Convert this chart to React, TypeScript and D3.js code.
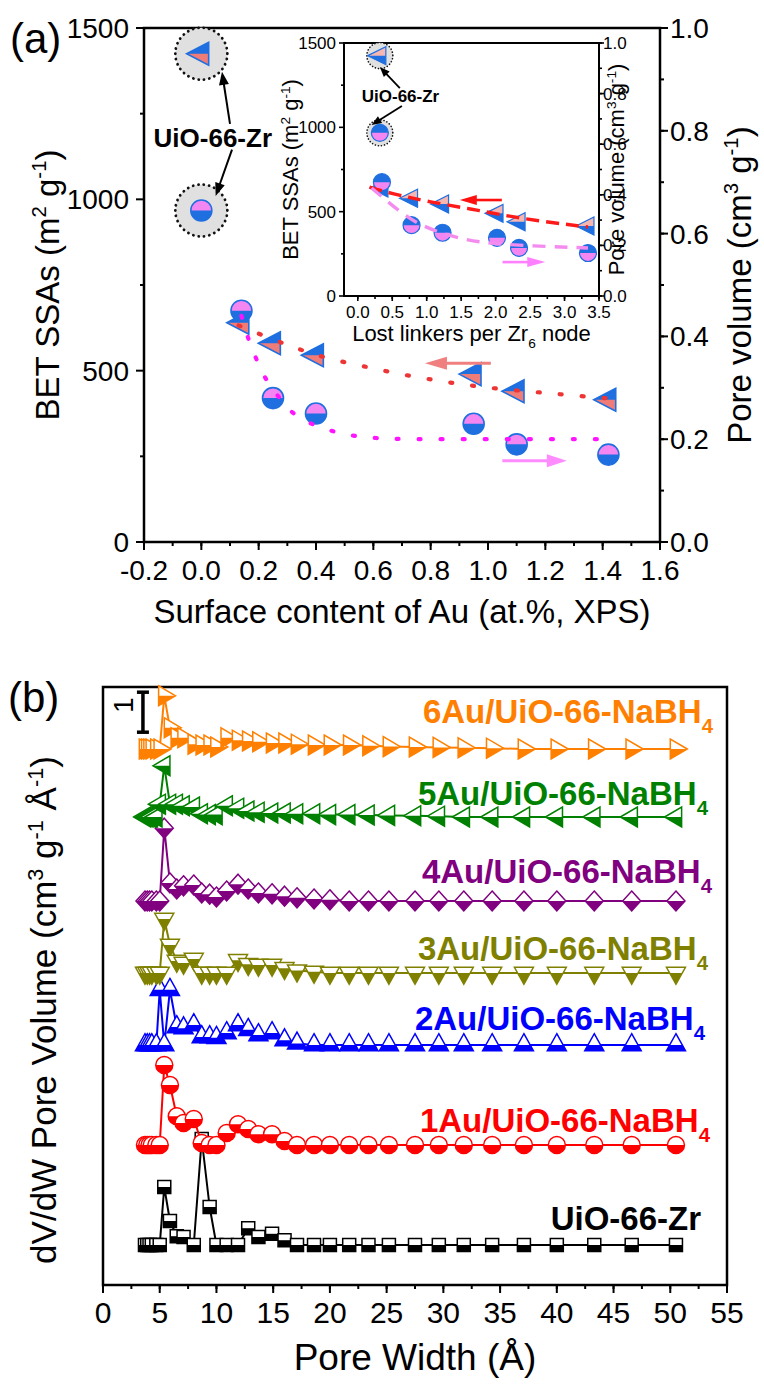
import React from "react";
import * as d3 from "d3";

const FONT = "'Liberation Sans', Arial, Helvetica, sans-serif";

// ---------- Panel (a): BET surface area & pore volume ----------
const auContent = [0.14, 0.25, 0.40, 0.95, 1.10, 1.42];
const lostLinkers = [0.35, 0.78, 1.23, 2.02, 2.34, 3.34];
const betSsa = [640, 580, 545, 490, 440, 415];
const poreVolume = [0.45, 0.28, 0.25, 0.23, 0.19, 0.17];
const uioAu = 0.0;
const uioLinkers = 0.32;
const uioSsa = 1425;
const uioPoreVolume = 0.645;

// fitted trend curves (main plot)
const ssaFitX = [0.13, 0.22, 0.30, 0.37, 0.45, 0.53, 0.61, 0.69, 0.77, 0.85, 0.93, 1.01, 1.12, 1.20, 1.28, 1.36, 1.42];
const ssaFitY = [632, 601, 575, 554, 534, 519, 505, 490, 479, 467, 458, 449, 441, 435, 429, 423, 419];
const pvFitX = [0.14, 0.16, 0.19, 0.22, 0.27, 0.31, 0.37, 0.45, 0.53, 0.61, 0.69, 0.90, 1.20, 1.42];
const pvFitY = [0.44, 0.40, 0.358, 0.319, 0.282, 0.253, 0.232, 0.216, 0.206, 0.202, 0.200, 0.200, 0.200, 0.200];

// fitted trend curves (inset)
const insetSsaFitX = [0.17, 0.46, 1.04, 1.73, 2.40, 3.34];
const insetSsaFitY = [646, 610, 557, 510, 456, 409];
const insetPvFitX = [0.20, 0.61, 0.94, 1.52, 2.10, 3.34];
const insetPvFitY = [0.427, 0.332, 0.273, 0.221, 0.202, 0.19];

const mainXTicks = d3.range(-2, 17, 2).map((i) => i / 10);
const mainXMinor = d3.range(-2, 17, 1).map((i) => i / 10);
const ssaTicks = [0, 500, 1000, 1500];
const ssaMinor = [250, 750, 1250];
const pvTicks = d3.range(0, 11, 2).map((i) => i / 10);
const pvMinor = d3.range(0, 11, 1).map((i) => i / 10);
const insetXTicks = d3.range(0, 8).map((i) => i / 2);
const insetXMinor = d3.range(-1, 15).map((i) => i / 4).filter((v) => v >= -0.2);

// ---------- Panel (b): pore size distributions ----------
const poreWidth = [3.7, 3.9, 4.1, 4.3, 4.7, 5.0, 5.4, 5.9, 6.5, 7.1, 8.0, 8.7, 9.4, 10.0, 10.9, 11.9, 12.8, 13.7, 14.9, 16.0, 17.1, 18.6, 20.0, 21.7, 23.4, 25.2, 27.5, 29.6, 31.8, 34.3, 37.1, 40.0, 43.3, 46.6, 50.5];
const psdUio = [0, 0, 0, 0, 0, 0, 1.45, 0.6, 0.22, 0.2, 0, 2.65, 0.95, 0, 0, 0, 0.42, 0.2, 0.28, 0.12, 0, 0, 0, 0, 0, 0, 0, 0, 0, 0, 0, 0, 0, 0, 0];
const psd1Au = [0, 0, 0, 0, 0, 0, 2.0, 1.5, 0.72, 0.55, 0.65, 0.05, 0, 0, 0.3, 0.52, 0.4, 0.27, 0.27, 0.1, 0, 0, 0, 0, 0, 0, 0, 0, 0, 0, 0, 0, 0, 0, 0];
const psd2Au = [0, 0, 0, 0, 0, 1.38, 0, 1.38, 0.45, 0.42, 0.5, 0.2, 0.2, 0.18, 0.3, 0.5, 0.38, 0.25, 0.3, 0.12, 0.04, 0, 0, 0, 0, 0, 0, 0, 0, 0, 0, 0, 0, 0, 0];
const psd3Au = [0, 0, 0, 0, 0, 0, 1.35, 0.7, 0.3, 0.25, 0.35, 0, 0, 0, 0, 0.32, 0.22, 0.2, 0.2, 0.12, 0.06, 0.03, 0, 0, 0, 0, 0, 0, 0, 0, 0, 0, 0, 0, 0];
const psd4Au = [0, 0, 0, 0, 0, 0, 1.82, 0.45, 0.3, 0.38, 0.4, 0.2, 0.17, 0.1, 0.25, 0.42, 0.3, 0.2, 0.18, 0.12, 0.08, 0.05, 0.03, 0, 0, 0, 0, 0, 0, 0, 0, 0, 0, 0, 0];
const psd5Au = [0, 0, 0, 0, 0, 0.32, 1.28, 0.32, 0.32, 0.28, 0.25, 0.08, 0.06, 0.06, 0.28, 0.22, 0.15, 0.12, 0.1, 0.1, 0.08, 0.08, 0.06, 0.06, 0.05, 0.04, 0.03, 0.02, 0, 0, 0, 0, 0, 0, 0];
const psd6Au = [0, 0, 0, 0, 0, 0, 1.33, 0.53, 0.28, 0.28, 0.12, 0.1, 0.1, 0.05, 0.28, 0.22, 0.2, 0.18, 0.15, 0.15, 0.12, 0.1, 0.1, 0.1, 0.08, 0.06, 0.05, 0.04, 0.03, 0.02, 0, 0, 0, 0, 0];
const seriesNames = ["UiO-66-Zr", "1Au/UiO-66-NaBH", "2Au/UiO-66-NaBH", "3Au/UiO-66-NaBH", "4Au/UiO-66-NaBH", "5Au/UiO-66-NaBH", "6Au/UiO-66-NaBH"];
const seriesOffsets = [1.0, 3.5, 6.0, 7.8, 9.6, 11.7, 13.4];
const poreTicks = d3.range(0, 56, 5);
const poreMinor = d3.range(0, 56, 2.5);

// ---------- scales ----------
const xA = d3.scaleLinear().domain([-0.2, 1.6]).range([144, 660]);
const yA = d3.scaleLinear().domain([0, 1500]).range([542, 28]);
const yA2 = d3.scaleLinear().domain([0, 1]).range([542, 28]);
const xI = d3.scaleLinear().domain([-0.2, 3.5]).range([344, 599]);
const yI = d3.scaleLinear().domain([0, 1500]).range([296, 43]);
const yI2 = d3.scaleLinear().domain([0, 1]).range([296, 43]);
const xB = d3.scaleLinear().domain([0, 55]).range([103, 727]);
const yB = d3.scaleLinear().domain([0, 14.95]).range([1285, 687]);

const C = {
  blue: "#1f6fe0",
  salmon: "#f07c78",
  lightSalmon: "#f6b6b2",
  violet: "#f486f2",
  fitRed: "#ee3535",
  fitMagenta: "#ff14ff",
  dashRed: "#ff1a1a",
  dashPink: "#f48cf0",
};

type Part = [string, string?];

function Rich({ parts, fs }: { parts: Part[]; fs: number }) {
  let cur = 0;
  return (
    <>
      {parts.map(([t, k], i) => {
        const target = k === "sup" ? -fs * 0.38 : k === "sub" ? fs * 0.3 : 0;
        const dy = target - cur;
        cur = target;
        return (
          <tspan key={i} dy={dy} fontSize={k ? fs * 0.62 : fs}>
            {t}
          </tspan>
        );
      })}
    </>
  );
}

function shapePaths(shape: string, cx: number, cy: number, w: number, h: number) {
  switch (shape) {
    case "circle": {
      const r = w / 2;
      return {
        full: `M${cx - r},${cy}A${r},${r} 0 1 1 ${cx + r},${cy}A${r},${r} 0 1 1 ${cx - r},${cy}Z`,
        lower: `M${cx - r},${cy}A${r},${r} 0 0 0 ${cx + r},${cy}Z`,
      };
    }
    case "square":
      return {
        full: `M${cx - w / 2},${cy - h / 2}H${cx + w / 2}V${cy + h / 2}H${cx - w / 2}Z`,
        lower: `M${cx - w / 2},${cy}H${cx + w / 2}V${cy + h / 2}H${cx - w / 2}Z`,
      };
    case "up":
      return {
        full: `M${cx},${cy - (2 * h) / 3}L${cx + w / 2},${cy + h / 3}L${cx - w / 2},${cy + h / 3}Z`,
        lower: `M${cx - w / 3},${cy}L${cx + w / 3},${cy}L${cx + w / 2},${cy + h / 3}L${cx - w / 2},${cy + h / 3}Z`,
      };
    case "down":
      return {
        full: `M${cx - w / 2},${cy - h / 3}L${cx + w / 2},${cy - h / 3}L${cx},${cy + (2 * h) / 3}Z`,
        lower: `M${cx - w / 3},${cy}L${cx + w / 3},${cy}L${cx},${cy + (2 * h) / 3}Z`,
      };
    case "left":
      return {
        full: `M${cx - (2 * w) / 3},${cy}L${cx + w / 3},${cy - h / 2}L${cx + w / 3},${cy + h / 2}Z`,
        lower: `M${cx - (2 * w) / 3},${cy}L${cx + w / 3},${cy}L${cx + w / 3},${cy + h / 2}Z`,
      };
    case "right":
      return {
        full: `M${cx + (2 * w) / 3},${cy}L${cx - w / 3},${cy - h / 2}L${cx - w / 3},${cy + h / 2}Z`,
        lower: `M${cx + (2 * w) / 3},${cy}L${cx - w / 3},${cy}L${cx - w / 3},${cy + h / 2}Z`,
      };
    default:
      return {
        full: `M${cx},${cy - h / 2}L${cx + w / 2},${cy}L${cx},${cy + h / 2}L${cx - w / 2},${cy}Z`,
        lower: `M${cx - w / 2},${cy}L${cx + w / 2},${cy}L${cx},${cy + h / 2}Z`,
      };
  }
}

function HalfMarker(props: {
  shape: string; cx: number; cy: number; w: number; h: number;
  upper: string; lower: string; stroke: string; sw: number;
}) {
  const { full, lower } = shapePaths(props.shape, props.cx, props.cy, props.w, props.h);
  return (
    <g>
      <path d={full} fill={props.upper} />
      <path d={lower} fill={props.lower} />
      <path d={full} fill="none" stroke={props.stroke} strokeWidth={props.sw} strokeLinejoin="miter" />
    </g>
  );
}

function Arrow(props: { x1: number; y1: number; x2: number; y2: number; color: string; width: number; head: number; hw: number }) {
  const { x1, y1, x2, y2, color, width, head, hw } = props;
  const len = Math.hypot(x2 - x1, y2 - y1);
  const ux = (x2 - x1) / len;
  const uy = (y2 - y1) / len;
  const bx = x2 - ux * head;
  const by = y2 - uy * head;
  const px = -uy;
  const py = ux;
  return (
    <g>
      <line x1={x1} y1={y1} x2={bx + ux * 2} y2={by + uy * 2} stroke={color} strokeWidth={width} />
      <path d={`M${x2},${y2}L${bx + px * hw},${by + py * hw}L${bx - px * hw},${by - py * hw}Z`} fill={color} />
    </g>
  );
}

const seriesStyles = [
  { shape: "square", color: "#000000", w: 13, h: 13 },
  { shape: "circle", color: "#ff0000", w: 17, h: 17 },
  { shape: "up", color: "#0000ff", w: 19, h: 17 },
  { shape: "down", color: "#808000", w: 19, h: 17 },
  { shape: "diamond", color: "#800080", w: 18, h: 20 },
  { shape: "left", color: "#008000", w: 17, h: 20 },
  { shape: "right", color: "#ff8000", w: 17, h: 20 },
];
const seriesData = [psdUio, psd1Au, psd2Au, psd3Au, psd4Au, psd5Au, psd6Au];
const labelLayout = [
  { xEnd: 701, dyBase: 15, sub: "" },
  { xEnd: 710, dyBase: 13, sub: "4" },
  { xEnd: 705, dyBase: 15, sub: "4" },
  { xEnd: 708, dyBase: 13, sub: "4" },
  { xEnd: 712, dyBase: 18, sub: "4" },
  { xEnd: 708, dyBase: 12, sub: "4" },
  { xEnd: 713, dyBase: 26, sub: "4" },
];

export default function App() {
  const ssaFit = d3.line<number>().x((_, i) => xA(ssaFitX[i])).y((d) => yA(d)).curve(d3.curveBasis)(ssaFitY) || "";
  const pvFit = d3.line<number>().x((_, i) => xA(pvFitX[i])).y((d) => yA2(d)).curve(d3.curveBasis)(pvFitY) || "";
  const inSsaFit = d3.line<number>().x((_, i) => xI(insetSsaFitX[i])).y((d) => yI(d)).curve(d3.curveBasis)(insetSsaFitY) || "";
  const inPvFit = d3.line<number>().x((_, i) => xI(insetPvFitX[i])).y((d) => yI2(d)).curve(d3.curveBasis)(insetPvFitY) || "";

  const tickFs = 28;
  const titleFs = 33;

  return (
    <svg
      width={764}
      height={1387}
      viewBox="0 0 764 1387"
      style={{ position: "absolute", left: 0, top: 0, background: "#fff" }}
      fontFamily={FONT}
    >
      <rect x={0} y={0} width={764} height={1387} fill="#fff" />

      {/* ================= Panel (a) ================= */}
      <text x={10} y={53} fontSize={42}>(a)</text>

      {/* axes ticks */}
      <g stroke="#000" strokeWidth={2}>
        {ssaTicks.map((v) => <line key={"l" + v} x1={xA(-0.2) - 8} x2={xA(-0.2)} y1={yA(v)} y2={yA(v)} />)}
        {ssaMinor.map((v) => <line key={"lm" + v} x1={xA(-0.2) - 4} x2={xA(-0.2)} y1={yA(v)} y2={yA(v)} />)}
        {pvTicks.map((v) => <line key={"r" + v} x1={xA(1.6)} x2={xA(1.6) + 8} y1={yA2(v)} y2={yA2(v)} />)}
        {pvMinor.map((v) => <line key={"rm" + v} x1={xA(1.6)} x2={xA(1.6) + 4} y1={yA2(v)} y2={yA2(v)} />)}
        {mainXTicks.map((v) => <line key={"b" + v} x1={xA(v)} x2={xA(v)} y1={yA(0)} y2={yA(0) + 8} />)}
        {mainXMinor.map((v) => <line key={"bm" + v} x1={xA(v)} x2={xA(v)} y1={yA(0)} y2={yA(0) + 4} />)}
      </g>
      <rect x={xA(-0.2)} y={yA(1500)} width={xA(1.6) - xA(-0.2)} height={yA(0) - yA(1500)} fill="none" stroke="#000" strokeWidth={2.5} />

      <g fontSize={tickFs}>
        {ssaTicks.map((v) => <text key={v} x={129} y={yA(v) + 10} textAnchor="end">{v}</text>)}
        {pvTicks.map((v) => <text key={v} x={670} y={yA2(v) + 10}>{v.toFixed(1)}</text>)}
        {mainXTicks.map((v) => <text key={v} x={xA(v)} y={580} textAnchor="middle">{v.toFixed(1)}</text>)}
      </g>
      <text x={(xA(-0.2) + xA(1.6)) / 2} y={623} fontSize={titleFs} textAnchor="middle">
        Surface content of Au (at.%, XPS)
      </text>
      <text transform={`translate(59,${(yA(0) + yA(1500)) / 2}) rotate(-90)`} textAnchor="middle" fontSize={titleFs}>
        <Rich fs={titleFs} parts={[["BET SSAs (m"], ["2", "sup"], [" g"], ["-1", "sup"], [")"]]} />
      </text>
      <text transform={`translate(751,${(yA(0) + yA(1500)) / 2}) rotate(-90)`} textAnchor="middle" fontSize={titleFs}>
        <Rich fs={titleFs} parts={[["Pore volume (cm"], ["3", "sup"], [" g"], ["-1", "sup"], [")"]]} />
      </text>

      {/* UiO-66-Zr reference markers */}
      <circle cx={xA(uioAu)} cy={yA(uioSsa)} r={26} fill="#e0e0e0" stroke="#111" strokeWidth={2.8} strokeDasharray="0.1 5.3" strokeLinecap="round" />
      <circle cx={xA(uioAu)} cy={yA2(uioPoreVolume)} r={26} fill="#e0e0e0" stroke="#111" strokeWidth={2.8} strokeDasharray="0.1 5.3" strokeLinecap="round" />
      <HalfMarker shape="left" cx={xA(uioAu)} cy={yA(uioSsa)} w={22} h={23} upper={C.blue} lower={C.salmon} stroke={C.blue} sw={1.6} />
      <HalfMarker shape="circle" cx={xA(uioAu)} cy={yA2(uioPoreVolume)} w={21} h={21} upper={C.violet} lower={C.blue} stroke={C.blue} sw={1.6} />

      {/* samples */}
      {auContent.map((x, i) => (
        <HalfMarker key={"t" + i} shape="left" cx={xA(x)} cy={yA(betSsa[i])} w={22} h={23} upper={C.blue} lower={C.salmon} stroke={C.blue} sw={1.6} />
      ))}
      {auContent.map((x, i) => (
        <HalfMarker key={"c" + i} shape="circle" cx={xA(x)} cy={yA2(poreVolume[i])} w={21} h={21} upper={C.violet} lower={C.blue} stroke={C.blue} sw={1.6} />
      ))}
      <path d={ssaFit} fill="none" stroke={C.fitRed} strokeWidth={4.2} strokeDasharray="2 20" strokeLinecap="round" />
      <path d={pvFit} fill="none" stroke={C.fitMagenta} strokeWidth={4.2} strokeDasharray="2 20" strokeLinecap="round" />
      <Arrow x1={xA(1.01)} y1={yA(522)} x2={xA(0.78)} y2={yA(522)} color="#f08080" width={3} head={22} hw={6.5} />
      <Arrow x1={xA(1.05)} y1={yA2(0.158)} x2={xA(1.275)} y2={yA2(0.158)} color="#ff8cff" width={3} head={20} hw={6.5} />

      {/* UiO-66-Zr annotation */}
      <text x={xA(0.04)} y={147} fontSize={26} fontWeight="bold" textAnchor="middle">UiO-66-Zr</text>
      <Arrow x1={xA(0.10)} y1={yA(1220)} x2={xA(0.072)} y2={yA(1372)} color="#000" width={2} head={13} hw={5} />
      <Arrow x1={xA(0.107)} y1={yA(1145)} x2={xA(0.05)} y2={yA(1010)} color="#000" width={2} head={13} hw={5} />

      {/* ---------- inset ---------- */}
      <rect x={xI(-0.2)} y={yI(1500)} width={xI(3.5) - xI(-0.2)} height={yI(0) - yI(1500)} fill="#fff" />
      <g stroke="#000" strokeWidth={1.6}>
        {ssaTicks.map((v) => <line key={"il" + v} x1={xI(-0.2) - 5} x2={xI(-0.2)} y1={yI(v)} y2={yI(v)} />)}
        {ssaMinor.map((v) => <line key={"ilm" + v} x1={xI(-0.2) - 3} x2={xI(-0.2)} y1={yI(v)} y2={yI(v)} />)}
        {pvTicks.map((v) => <line key={"ir" + v} x1={xI(3.5)} x2={xI(3.5) + 5} y1={yI2(v)} y2={yI2(v)} />)}
        {pvMinor.map((v) => <line key={"irm" + v} x1={xI(3.5)} x2={xI(3.5) + 3} y1={yI2(v)} y2={yI2(v)} />)}
        {insetXTicks.map((v) => <line key={"ib" + v} x1={xI(v)} x2={xI(v)} y1={yI(0)} y2={yI(0) + 5} />)}
        {insetXMinor.map((v) => <line key={"ibm" + v} x1={xI(v)} x2={xI(v)} y1={yI(0)} y2={yI(0) + 3} />)}
      </g>
      <rect x={xI(-0.2)} y={yI(1500)} width={xI(3.5) - xI(-0.2)} height={yI(0) - yI(1500)} fill="none" stroke="#000" strokeWidth={2} />
      <g fontSize={17}>
        {ssaTicks.map((v) => <text key={v} x={336} y={yI(v) + 6} textAnchor="end">{v}</text>)}
        {pvTicks.map((v) => <text key={v} x={603} y={yI2(v) + 6}>{v.toFixed(1)}</text>)}
        {insetXTicks.map((v) => <text key={v} x={xI(v)} y={318} textAnchor="middle">{v.toFixed(1)}</text>)}
      </g>
      <text x={(xI(-0.2) + xI(3.5)) / 2} y={341} fontSize={22} textAnchor="middle">
        <Rich fs={22} parts={[["Lost linkers per Zr"], ["6", "sub"], [" node"]]} />
      </text>
      <text transform={`translate(298,${(yI(0) + yI(1500)) / 2}) rotate(-90)`} textAnchor="middle" fontSize={22}>
        <Rich fs={22} parts={[["BET SSAs (m"], ["2", "sup"], [" g"], ["-1", "sup"], [")"]]} />
      </text>
      <text transform={`translate(624,${(yI(0) + yI(1500)) / 2}) rotate(-90)`} textAnchor="middle" fontSize={22}>
        <Rich fs={22} parts={[["Pore volume (cm"], ["3", "sup"], [" g"], ["-1", "sup"], [")"]]} />
      </text>

      <circle cx={xI(uioLinkers)} cy={yI(uioSsa)} r={13} fill="#e0e0e0" stroke="#111" strokeWidth={1.6} strokeDasharray="0.1 3" strokeLinecap="round" />
      <circle cx={xI(uioLinkers)} cy={yI2(uioPoreVolume)} r={13} fill="#e0e0e0" stroke="#111" strokeWidth={1.6} strokeDasharray="0.1 3" strokeLinecap="round" />
      <HalfMarker shape="left" cx={xI(uioLinkers)} cy={yI(uioSsa)} w={18} h={18} upper={C.lightSalmon} lower={C.blue} stroke={C.blue} sw={1.2} />
      <HalfMarker shape="circle" cx={xI(uioLinkers)} cy={yI2(uioPoreVolume)} w={17} h={17} upper={C.blue} lower={C.violet} stroke={C.blue} sw={1.2} />
      {lostLinkers.map((x, i) => (
        <HalfMarker key={"it" + i} shape="left" cx={xI(x)} cy={yI(betSsa[i])} w={18} h={18} upper={C.lightSalmon} lower={C.blue} stroke={C.blue} sw={1.2} />
      ))}
      {lostLinkers.map((x, i) => (
        <HalfMarker key={"ic" + i} shape="circle" cx={xI(x)} cy={yI2(poreVolume[i])} w={17} h={17} upper={C.blue} lower={C.violet} stroke={C.blue} sw={1.2} />
      ))}
      <path d={inSsaFit} fill="none" stroke={C.dashRed} strokeWidth={3.4} strokeDasharray="13 7" />
      <path d={inPvFit} fill="none" stroke={C.dashPink} strokeWidth={3.4} strokeDasharray="13 9" />
      <Arrow x1={xI(2.09)} y1={yI(569)} x2={xI(1.48)} y2={yI(569)} color="#ff1010" width={2.6} head={17} hw={5} />
      <Arrow x1={xI(2.10)} y1={yI2(0.134)} x2={xI(2.72)} y2={yI2(0.134)} color="#ff80ff" width={2.6} head={18} hw={5} />
      <text x={xI(0.62)} y={102} fontSize={17} fontWeight="bold" textAnchor="middle">UiO-66-Zr</text>
      <Arrow x1={xI(0.61)} y1={yI(1233)} x2={xI(0.32)} y2={yI(1357)} color="#000" width={1.8} head={10} hw={4} />
      <Arrow x1={xI(0.64)} y1={yI(1126)} x2={xI(0.20)} y2={yI(1014)} color="#000" width={1.8} head={10} hw={4} />

      {/* ================= Panel (b) ================= */}
      <text x={8} y={712} fontSize={42}>(b)</text>
      <g stroke="#000" strokeWidth={2}>
        {poreTicks.map((v) => <line key={"pb" + v} x1={xB(v)} x2={xB(v)} y1={yB(0)} y2={yB(0) + 8} />)}
        {poreMinor.map((v) => <line key={"pbm" + v} x1={xB(v)} x2={xB(v)} y1={yB(0)} y2={yB(0) + 4} />)}
      </g>
      <rect x={xB(0)} y={yB(14.95)} width={xB(55) - xB(0)} height={yB(0) - yB(14.95)} fill="none" stroke="#000" strokeWidth={2.5} />
      <g fontSize={30}>
        {poreTicks.map((v) => <text key={v} x={xB(v)} y={1323} textAnchor="middle">{v}</text>)}
      </g>
      <text x={(xB(0) + xB(55)) / 2} y={1370} fontSize={37} textAnchor="middle">Pore Width (Å)</text>
      <text transform={`translate(56,1010) rotate(-90)`} textAnchor="middle" fontSize={35}>
        <Rich fs={35} parts={[["dV/dW Pore Volume (cm"], ["3", "sup"], [" g"], ["-1", "sup"], [" Å"], ["-1", "sup"], [")"]]} />
      </text>

      {/* scale bar: 1 unit */}
      <g stroke="#000" strokeWidth={3.5}>
        <line x1={xB(3.52)} x2={xB(3.52)} y1={yB(13.82)} y2={yB(14.82)} />
        <line x1={xB(3.52) - 6} x2={xB(3.52) + 6} y1={yB(13.82)} y2={yB(13.82)} />
        <line x1={xB(3.52) - 6} x2={xB(3.52) + 6} y1={yB(14.82)} y2={yB(14.82)} />
      </g>
      <text transform={`translate(133,${yB(14.32) - 7}) rotate(-90)`} textAnchor="middle" fontSize={28}>1</text>

      {seriesData.map((vals, si) => {
        const st = seriesStyles[si];
        const off = seriesOffsets[si];
        const path = d3.line<number>().x((_, i) => xB(poreWidth[i])).y((d) => yB(off + d))(vals) || "";
        return (
          <g key={si}>
            <path d={path} fill="none" stroke={st.color} strokeWidth={2} strokeLinejoin="round" />
            {vals.map((d, i) => (
              <HalfMarker key={i} shape={st.shape} cx={xB(poreWidth[i])} cy={yB(off + d)} w={st.w} h={st.h} upper="#fff" lower={st.color} stroke={st.color} sw={1.5} />
            ))}
          </g>
        );
      })}
      {seriesNames.map((name, si) => {
        const lay = labelLayout[si];
        return (
          <text key={name} x={lay.xEnd} y={yB(seriesOffsets[si]) - lay.dyBase} fontSize={33} fontWeight="bold" textAnchor="end" fill={seriesStyles[si].color}>
            {lay.sub ? <Rich fs={33} parts={[[name], [lay.sub, "sub"]]} /> : name}
          </text>
        );
      })}
    </svg>
  );
}
